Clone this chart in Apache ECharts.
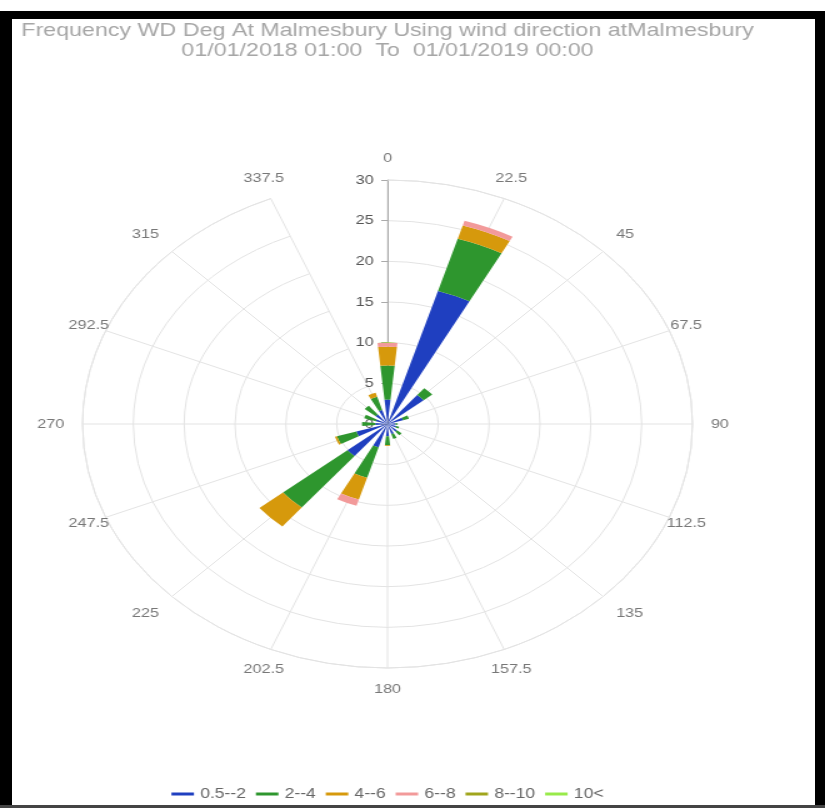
<!DOCTYPE html>
<html>
<head>
<meta charset="utf-8">
<script src="https://cdn.jsdelivr.net/npm/echarts@6/dist/echarts.min.js"></script>
<style>
  html, body { margin: 0; padding: 0; background: #ffffff; }
  body { width: 825px; height: 808px; position: relative; overflow: hidden; }
  #chart { position: absolute; left: 0; top: 0; width: 620px; height: 808px; transform: scaleX(1.25); transform-origin: 0 0; }
  .frame { position: absolute; background: #000; }
</style>
</head>
<body>
<div id="chart"></div>
<div class="frame" style="left:0;top:11px;width:825px;height:8px;"></div>
<div class="frame" style="left:0;top:11px;width:12px;height:797px;"></div>
<div class="frame" style="left:815px;top:11px;width:10px;height:797px;"></div>
<div class="frame" style="left:0;top:805px;width:825px;height:3px;background:#444;"></div>
<script>
// Wind directions (degrees) – angle axis categories
const directions = ['0', '22.5', '45', '67.5', '90', '112.5', '135', '157.5',
                    '180', '202.5', '225', '247.5', '270', '292.5', '315', '337.5'];
// Radial tick labels
const radialTicks = [0, 5, 10, 15, 20, 25, 30];
// Speed bins (legend names)
const binNames = ['0.5--2', '2--4', '4--6', '6--8', '8--10', '10<'];
const binColors = ['#1f3fc0', '#2e962e', '#d6990c', '#f29a9a', '#a0a51c', '#98ea4a'];
// Frequency (%) per direction, per speed bin (stacked)
const bin05to2 = [3.0, 17.1, 4.6, 1.6, 0.8, 0.9, 1.2, 1.3, 1.5, 3.0, 5.1, 3.2, 1.2, 1.2, 1.5, 1.8];
const bin2to4  = [4.2, 6.7, 1.1, 0.6, 0.2, 0.3, 0.6, 0.6, 1.1, 3.9, 8.2, 2.0, 1.3, 1.2, 1.4, 1.7];
const bin4to6  = [2.3, 1.7, 0, 0, 0, 0, 0, 0, 0.1, 2.8, 3.0, 0.2, 0, 0, 0, 0.5];
const bin6to8  = [0.5, 0.6, 0, 0, 0, 0, 0, 0, 0, 0.8, 0, 0, 0, 0, 0, 0];
const bin8to10 = [0, 0, 0, 0, 0, 0, 0, 0, 0, 0, 0, 0, 0, 0, 0, 0];
const bin10up  = [0, 0, 0, 0, 0, 0, 0, 0, 0, 0, 0, 0, 0, 0, 0, 0];
const binData = [bin05to2, bin2to4, bin4to6, bin6to8, bin8to10, bin10up];

const titleLine1 = 'Frequency WD Deg At Malmesbury Using wind direction atMalmesbury';
const titleLine2 = '01/01/2018 01:00  To  01/01/2019 00:00';

const FONT = 'Liberation Sans, Arial, sans-serif';
const LABEL_RADIUS = 31.8;   // where direction labels are anchored (in radial-axis units)

// label alignment rule for direction labels (style only)
function dirLabelAlign(i) {
  const deg = i * 22.5;
  const s = Math.sin(deg * Math.PI / 180), c = Math.cos(deg * Math.PI / 180);
  const odd = i % 2 === 1;
  let align, vAlign;
  if (Math.abs(s) < 0.01 || (odd && Math.abs(c) > 0.3)) align = 'center';
  else align = s > 0 ? 'left' : 'right';
  if (Math.abs(c) < 0.01 || (odd && Math.abs(c) < 0.5)) vAlign = 'middle';
  else vAlign = c > 0 ? 'bottom' : 'top';
  return { align, verticalAlign: vAlign };
}

const chart = echarts.init(document.getElementById('chart'), null, { renderer: 'canvas' });

const barSeries = binNames.map((name, i) => ({
  type: 'bar',
  name: name,
  coordinateSystem: 'polar',
  stack: 'wind',
  barWidth: '50%',
  data: binData[i],
  itemStyle: { color: binColors[i] }
}));

const labelSeries = {
  type: 'scatter',
  coordinateSystem: 'polar',
  clip: false,
  silent: true,
  symbolSize: 0,
  z: 5,
  data: directions.map((d, i) => {
    const a = dirLabelAlign(i);
    return {
      name: d,
      value: [LABEL_RADIUS, i],
      label: { align: a.align, verticalAlign: a.verticalAlign }
    };
  }),
  label: {
    show: true,
    position: 'inside',
    formatter: '{b}',
    fontSize: 13,
    color: '#555',
    fontFamily: FONT
  }
};

chart.setOption({
  animation: false,
  color: binColors,
  textStyle: { fontFamily: FONT },
  title: {
    text: titleLine1 + '\n' + titleLine2,
    left: 'center',
    top: 21,
    padding: 0,
    textStyle: { fontSize: 18.6, fontWeight: 'normal', color: '#a6a6a6', lineHeight: 20, fontFamily: FONT }
  },
  legend: {
    bottom: 2,
    left: 'center',
    icon: 'rect',
    itemWidth: 18,
    itemHeight: 3,
    itemGap: 8,
    textStyle: { fontSize: 14, color: '#666', fontFamily: FONT },
    data: binNames
  },
  polar: { center: ['50%', 424], radius: 244 },
  angleAxis: {
    type: 'category',
    data: directions,
    boundaryGap: false,
    startAngle: 90,
    clockwise: true,
    axisLine: { show: true, lineStyle: { color: '#e3e3e3', width: 1 } },
    axisTick: { show: false },
    splitLine: { show: true, lineStyle: { color: '#e3e3e3', width: 1 } },
    axisLabel: { show: false }
  },
  radiusAxis: {
    type: 'value',
    min: radialTicks[0],
    max: radialTicks[radialTicks.length - 1],
    interval: radialTicks[1] - radialTicks[0],
    axisLine: { show: true, lineStyle: { color: '#aaa', width: 1 } },
    axisTick: { show: true, length: 5, lineStyle: { color: '#aaa' } },
    splitLine: { show: true, lineStyle: { color: '#e3e3e3', width: 1 } },
    axisLabel: { fontSize: 13, color: '#555', margin: 11, fontFamily: FONT }
  },
  series: barSeries.concat([labelSeries])
});
</script>
</body>
</html>
